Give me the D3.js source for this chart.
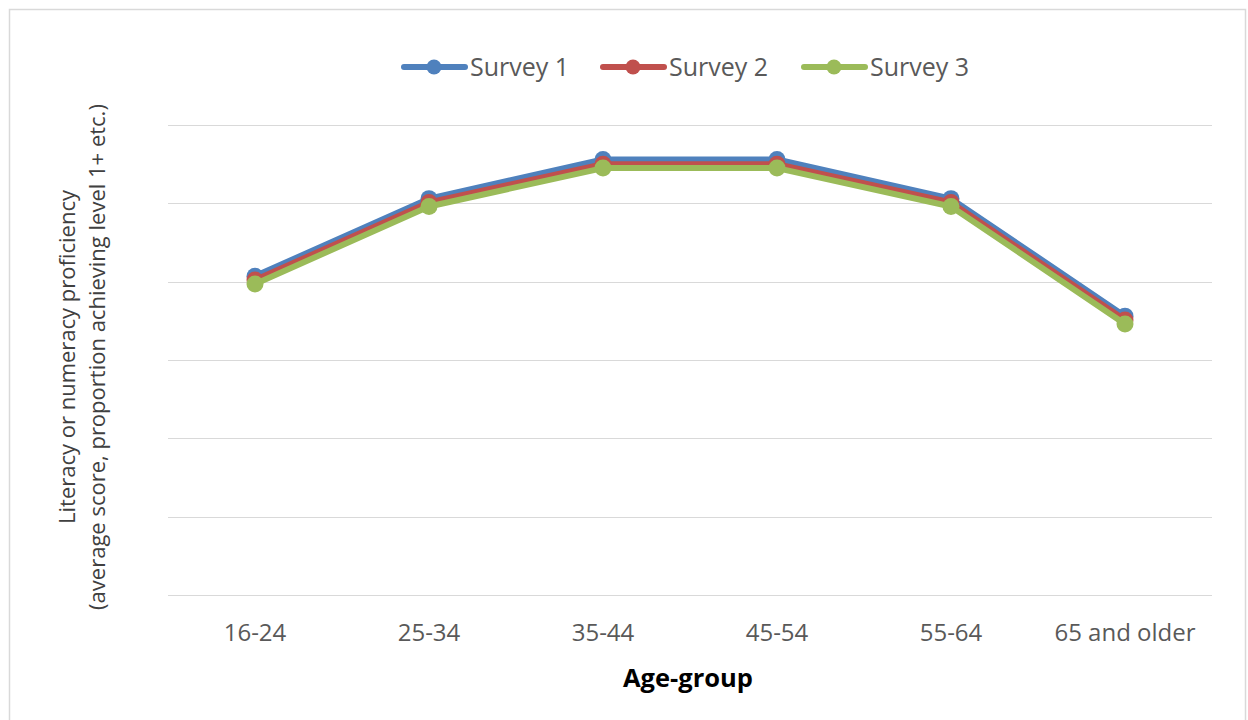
<!DOCTYPE html>
<html><head><meta charset="utf-8">
<script src="https://cdn.jsdelivr.net/npm/d3@7"></script>
<style>body{margin:0;background:#fff}svg{display:block}</style>
</head><body>
<script>
const categories = ["16-24","25-34","35-44","45-54","55-64","65 and older"];
const seriesNames = ["Survey 1","Survey 2","Survey 3"];
const survey1 = [4.07, 5.06, 5.56, 5.56, 5.06, 3.56];
const survey2 = [4.02, 5.01, 5.50, 5.50, 5.01, 3.51];
const survey3 = [3.97, 4.96, 5.45, 5.45, 4.96, 3.46];
const colors = ["#4F81BD","#C0504D","#9BBB59"];
const yTicks = [0,1,2,3,4,5,6];

const W=1248,H=720;
const svg=d3.select("body").append("svg").attr("width",W).attr("height",H);
const font="'Open Sans', 'Noto Sans', sans-serif";
svg.append("rect").attr("x",9.5).attr("y",9.5).attr("width",1236).attr("height",720).attr("fill","#fff").attr("stroke","#d9d9d9").attr("stroke-width",1.5);

const m={left:168,right:1212,top:125,bottom:595};
const x=d3.scaleBand().domain(categories).range([m.left,m.right]);
const y=d3.scaleLinear().domain([0,6]).range([m.bottom,m.top]);

svg.append("g").selectAll("line").data(yTicks).join("line")
  .attr("x1",m.left).attr("x2",m.right).attr("y1",d=>Math.round(y(d))+0.5).attr("y2",d=>Math.round(y(d))+0.5)
  .attr("stroke","#d9d9d9").attr("stroke-width",1.2);

const xa=svg.append("g").attr("transform",`translate(0,${m.bottom})`).call(d3.axisBottom(x).tickSize(0).tickPadding(29));
xa.select(".domain").remove();
xa.selectAll("text").attr("font-family",font).attr("font-size",24).attr("fill","#595959");

const data=[survey1,survey2,survey3];
const line=d3.line().x((d,i)=>x(categories[i])+x.bandwidth()/2).y(d=>y(d));
data.forEach((s,k)=>{
  const g=svg.append("g");
  g.append("path").attr("d",line(s)).attr("fill","none").attr("stroke",colors[k]).attr("stroke-width",6).attr("stroke-linejoin","round");
  g.selectAll("circle").data(s).join("circle").attr("cx",(d,i)=>x(categories[i])+x.bandwidth()/2).attr("cy",d=>y(d)).attr("r",8.5).attr("fill",colors[k]);
});

// legend
const lx=[401,600,801];
seriesNames.forEach((n,k)=>{
  const g=svg.append("g").attr("transform",`translate(${lx[k]},67)`);
  g.append("line").attr("x1",3).attr("x2",64).attr("stroke",colors[k]).attr("stroke-width",6).attr("stroke-linecap","round");
  g.append("circle").attr("cx",33).attr("r",7.5).attr("fill",colors[k]);
  g.append("text").attr("x",69).attr("y",9).attr("font-family",font).attr("font-size",25).attr("fill","#595959").text(n);
});

// axis titles
const yt=svg.append("text").attr("transform","translate(75,357) rotate(-90)").attr("text-anchor","middle")
  .attr("font-family",font).attr("font-size",22).attr("fill","#404040");
yt.append("tspan").attr("x",0).attr("dy",0).text("Literacy or numeracy proficiency");
yt.append("tspan").attr("x",0).attr("dy",30).text("(average score, proportion achieving level 1+ etc.)");

svg.append("text").attr("x",688).attr("y",687).attr("text-anchor","middle").attr("font-family",font)
  .attr("font-size",25.5).attr("font-weight","bold").attr("fill","#000").text("Age-group");
</script>
</body></html>
